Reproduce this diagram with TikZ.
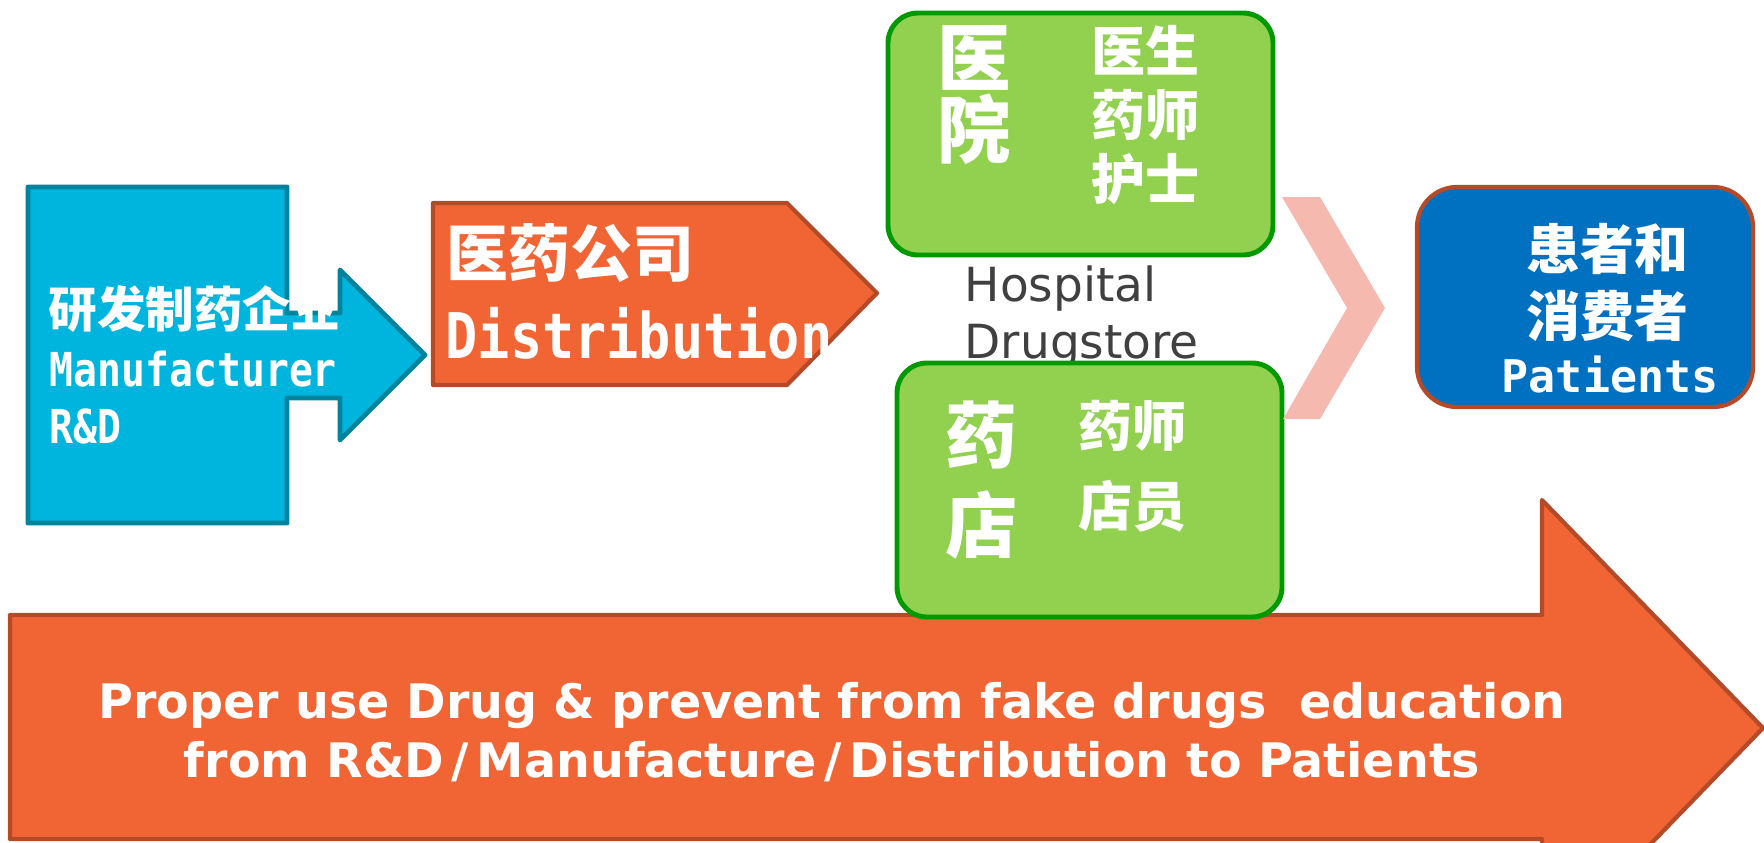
\documentclass[tikz,border=0pt]{standalone}
\usepackage{fontspec}
\setmainfont{DejaVu Sans}
\newfontfamily\cjk{Noto Sans CJK SC}
\newfontfamily\narrowmono{DejaVu Sans Mono}[FakeStretch=0.85]
\newfontfamily\widemono{DejaVu Sans Mono}
\newcommand{\pxsize}[2]{\fontsize{#1pt}{#2pt}\selectfont}
\newcommand{\wslash}{\kern0.16em/\kern0.16em}

\definecolor{cyanfill}{RGB}{0,181,221}
\definecolor{cyanline}{RGB}{0,132,158}
\definecolor{orangefill}{RGB}{241,100,52}
\definecolor{orangeline}{RGB}{181,74,40}
\definecolor{greenfill}{RGB}{146,208,80}
\definecolor{greenline}{RGB}{0,153,0}
\definecolor{pinkfill}{RGB}{246,185,175}
\definecolor{bluefill}{RGB}{0,112,192}
\definecolor{graytext}{RGB}{64,64,64}

\tikzset{
    cyan shape/.style={draw=cyanline,fill=cyanfill,line width=1.4pt},
    orange shape/.style={draw=orangeline,fill=orangefill,line width=1.2pt},
    green box/.style={draw=greenline,fill=greenfill,line width=1.4pt,rounded corners=0.3cm},
    patient box/.style={draw=orangeline,fill=bluefill,line width=1.2pt,rounded corners=0.4cm},
    white text/.style={inner sep=0pt,text=white,align=left},
    cjk text/.style={white text,font=\cjk\bfseries},
    mono text/.style={white text,font=\narrowmono\bfseries}
}

\begin{document}
\begin{tikzpicture}[x=0.01cm,y=-0.01cm,line join=round]
    \useasboundingbox (0,0) rectangle (1764,842);
    \clip (0,0) rectangle (1764,842);

    % bottom arrow
    \draw[orange shape] (10,615) -- (1542,615) -- (1542,500) -- (1763,728)
        -- (1542,956) -- (1542,839) -- (10,839) -- cycle;
    \node[white text, align=center, anchor=north, font=\bfseries\pxsize{13.52}{16.79}] (edu) at (832,682)
        {Proper use Drug \& prevent from fake drugs\ \ education\\from R\&D\wslash Manufacture\wslash Distribution to Patients};

    % manufacturer
    \draw[cyan shape] (28,187) -- (287,187) -- (287,313) -- (340,313) -- (340,270) -- (425,355)
        -- (340,440) -- (340,398) -- (287,398) -- (287,523) -- (28,523) -- cycle;
    \node[cjk text, anchor=north west, font=\cjk\bfseries\pxsize{13.8}{13.8}] (mfr) at (48,285) {研发制药企业};
    \node[mono text, anchor=north west, font=\narrowmono\bfseries\pxsize{13.3}{16.22}] (mfr en) at (49,350) {Manufacturer\\R\&D};

    % distribution
    \draw[orange shape] (433,203) -- (787,203) -- (877,293) -- (787,385) -- (433,385) -- cycle;
    \node[cjk text, anchor=north west, font=\cjk\bfseries\pxsize{17.6}{17.6}] (dist) at (446,223) {医药公司};
    \node[mono text, anchor=north west, font=\narrowmono\bfseries\pxsize{17.9}{17.9}] (dist en) at (445,307) {Distribution};

    % hospital
    \draw[green box] (888,13) rectangle (1273,255);
    \node[cjk text, anchor=north west, font=\cjk\bfseries\pxsize{20.9}{20.49}] (hosp) at (937,25) {医\\院};
    \node[cjk text, anchor=north west, font=\cjk\bfseries\pxsize{15.36}{18.21}] (hosp staff) at (1091,25) {医生\\药师\\护士};

    \node[anchor=north west, inner sep=0pt, align=left, text=graytext, font=\pxsize{13.37}{16.22}] (hd) at (964,265)
        {Hospital\\Drugstore};

    % drugstore
    \draw[green box] (897,363) rectangle (1282,617);
    \node[cjk text, anchor=north west, font=\cjk\bfseries\pxsize{20.49}{25.61}] (store) at (945,400) {药\\店};
    \node[cjk text, anchor=north west, font=\cjk\bfseries\pxsize{15.36}{22.76}] (store staff) at (1078,400) {药师\\店员};

    % chevron
    \fill[pinkfill] (1282,197) -- (1320,197) -- (1385,308) -- (1320,419) -- (1283,419) -- (1347,308) -- cycle;

    % patients
    \draw[patient box] (1417,187) rectangle (1753,407);
    \node[cjk text, anchor=north west, font=\cjk\bfseries\pxsize{15.36}{19.06}] (pat) at (1526,223) {患者和\\消费者};
    \node[white text, anchor=base west, font=\widemono\bfseries\pxsize{12.8}{12.8}] (pat en) at (1501,392) {Patients};

\end{tikzpicture}
\end{document}
